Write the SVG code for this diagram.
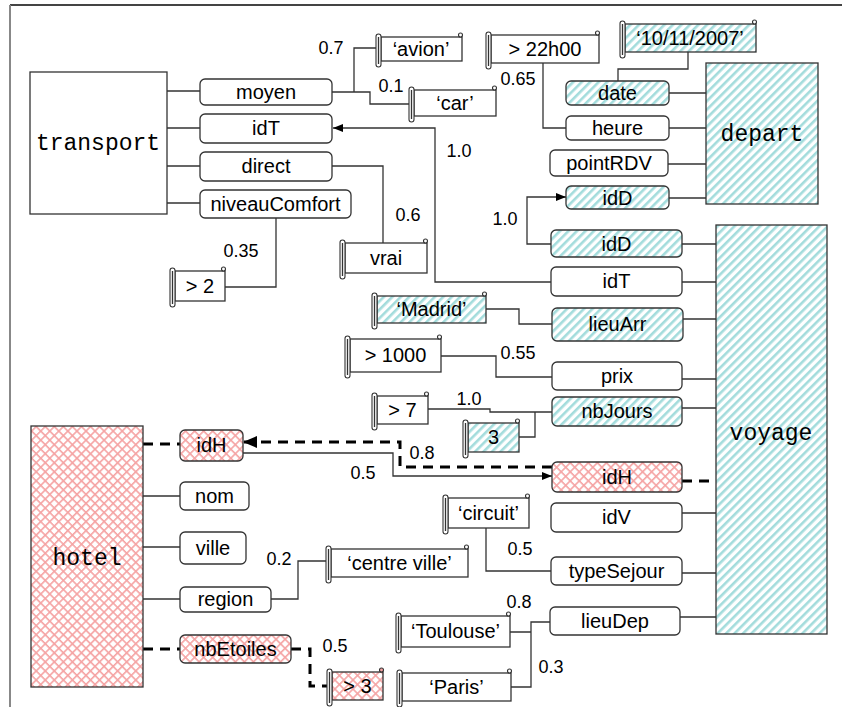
<svg xmlns="http://www.w3.org/2000/svg" width="842" height="707" viewBox="0 0 842 707">
<defs>
<pattern id="cy" width="6" height="6" patternUnits="userSpaceOnUse" patternTransform="rotate(-45)"><rect width="6" height="6" fill="#fff"/><rect width="6" height="2.6" fill="#a3dcdc"/></pattern>
<pattern id="pk" width="6.4" height="6.4" patternUnits="userSpaceOnUse" patternTransform="rotate(45)"><rect width="6.4" height="6.4" fill="#fff"/><path d="M0,0.8H6.4M0.8,0V6.4" stroke="#f5a3a3" stroke-width="1.6"/></pattern>
<marker id="a" markerWidth="11" markerHeight="9" refX="10" refY="4" orient="auto" markerUnits="userSpaceOnUse"><path d="M0,0L10,4L0,8z" fill="#000"/></marker>
<marker id="A" markerWidth="15" markerHeight="13" refX="14" refY="6" orient="auto" markerUnits="userSpaceOnUse"><path d="M0,0L14,6L0,12z" fill="#000"/></marker>
<style>
.n{fill:#fff;stroke:#333;stroke-width:1.3}
.c{fill:url(#cy);stroke:#333;stroke-width:1.3}
.p{fill:url(#pk);stroke:#333;stroke-width:1.3}
.b{stroke:#333;stroke-width:1.3}
.r{fill:#fff;stroke:#333;stroke-width:1.1}
.t{font-family:"Liberation Sans",Arial,sans-serif;font-size:20px;fill:#000;text-anchor:middle}
.m{font-family:"Liberation Mono","Courier New",monospace;font-size:23px;fill:#000;text-anchor:middle}
.l{font-family:"Liberation Sans",Arial,sans-serif;font-size:18px;fill:#000;text-anchor:middle}
.w{fill:none;stroke:#333;stroke-width:1.3}
.d{fill:none;stroke:#000;stroke-width:3;stroke-dasharray:10,7}
</style>
</defs>
<rect width="842" height="707" fill="#fff"/>
<g id="frame"><path d="M10,5H842" stroke="#444" stroke-width="2"/><path d="M10,5V707" stroke="#888" stroke-width="2"/></g>

<g id="connectors">
<path class="w" d="M167,91H200M167,128H200M167,166H200M167,203H200"/>
<path class="w" d="M332,92H354V48H376M354,92H370V104H409"/>
<path class="w" d="M543,63V128H566"/>
<path class="w" d="M688,52V69H618V81"/>
<path class="w" d="M669,93H706M669,128H706M668,164H706M669,198H706"/>
<path class="w" d="M551,282H435V128H333" marker-end="url(#a)"/>
<path class="w" d="M332,166H383V243"/>
<path class="w" d="M276,218V287H225"/>
<path class="w" d="M551,244H527V197H566" marker-end="url(#a)"/>
<path class="w" d="M486,309H519V324H552"/>
<path class="w" d="M441,356H496V377H552"/>
<path class="w" d="M428,409H490V412H552M519,437H535V412"/>
<path class="w" d="M682,244H716M682,282H716M683,319H716M682,379H716M682,408H716M682,513H716M682,573H716M680,617H716"/>
<path class="w" d="M243,453H393V476H552" marker-end="url(#a)"/>
<path class="d" d="M552,467H400V442H243" marker-end="url(#A)"/>
<path class="d" d="M682,481H716"/>
<path class="d" d="M143,444H180"/>
<path class="d" d="M143,649H180M291,649H310V686H328"/>
<path class="w" d="M143,496H180M143,547H180M143,599H180"/>
<path class="w" d="M271,599H298V561H326"/>
<path class="w" d="M486,528V571H551"/>
<path class="w" d="M550,622H531V687H511M510,632H531"/>
</g>

<g id="labels">
<text class="l" x="331" y="54">0.7</text>
<text class="l" x="391" y="92">0.1</text>
<text class="l" x="518" y="85">0.65</text>
<text class="l" x="459" y="157">1.0</text>
<text class="l" x="505" y="225">1.0</text>
<text class="l" x="408" y="221">0.6</text>
<text class="l" x="241" y="257">0.35</text>
<text class="l" x="518" y="359">0.55</text>
<text class="l" x="469" y="405">1.0</text>
<text class="l" x="422" y="459">0.8</text>
<text class="l" x="363" y="479">0.5</text>
<text class="l" x="279" y="565">0.2</text>
<text class="l" x="520" y="555">0.5</text>
<text class="l" x="519" y="608">0.8</text>
<text class="l" x="551" y="673">0.3</text>
<text class="l" x="335" y="652">0.5</text>
</g>

<g id="transport"><rect class="n" x="30" y="72" width="137" height="142"/><text class="m" x="98" y="150">transport</text></g>
<g id="moyen"><rect class="n" x="200" y="79" width="132" height="26" rx="5"/><text class="t" x="266" y="99">moyen</text></g>
<g id="idT-transport"><rect class="n" x="200" y="114" width="132" height="29" rx="5"/><text class="t" x="266" y="135">idT</text></g>
<g id="direct"><rect class="n" x="200" y="152" width="132" height="29" rx="5"/><text class="t" x="266" y="173">direct</text></g>
<g id="niveauComfort"><rect class="n" x="200" y="190" width="151" height="28" rx="5"/><text class="t" x="275.5" y="211">niveauComfort</text></g>

<g id="depart"><rect class="c" x="706" y="63" width="112" height="141"/><text class="m" x="762" y="141">depart</text></g>
<g id="date"><rect class="c" x="566" y="81" width="103" height="24" rx="5"/><text class="t" x="617.5" y="100">date</text></g>
<g id="heure"><rect class="n" x="566" y="116" width="103" height="24" rx="5"/><text class="t" x="617.5" y="135">heure</text></g>
<g id="pointRDV"><rect class="n" x="550" y="150" width="118" height="26" rx="5"/><text class="t" x="609" y="170">pointRDV</text></g>
<g id="idD-depart"><rect class="c" x="566" y="186" width="103" height="23" rx="5"/><text class="t" x="617.5" y="205">idD</text></g>

<g id="voyage"><rect class="c" x="716" y="225" width="111" height="409"/><text class="m" x="771" y="440">voyage</text></g>
<g id="idD-voyage"><rect class="c" x="551" y="230" width="131" height="27" rx="5"/><text class="t" x="616.5" y="251">idD</text></g>
<g id="idT-voyage"><rect class="n" x="551" y="267" width="131" height="29" rx="5"/><text class="t" x="616.5" y="288">idT</text></g>
<g id="lieuArr"><rect class="c" x="552" y="308" width="131" height="33" rx="5"/><text class="t" x="617.5" y="331">lieuArr</text></g>
<g id="prix"><rect class="n" x="552" y="362" width="130" height="28" rx="5"/><text class="t" x="617" y="383">prix</text></g>
<g id="nbJours"><rect class="c" x="552" y="397" width="130" height="29" rx="5"/><text class="t" x="617" y="418">nbJours</text></g>
<g id="idH-voyage"><rect class="p" x="552" y="462" width="130" height="30" rx="5"/><text class="t" x="617" y="484">idH</text></g>
<g id="idV"><rect class="n" x="551" y="503" width="131" height="29" rx="5"/><text class="t" x="616.5" y="524">idV</text></g>
<g id="typeSejour"><rect class="n" x="551" y="557" width="131" height="28" rx="5"/><text class="t" x="616.5" y="578">typeSejour</text></g>
<g id="lieuDep"><rect class="n" x="550" y="607" width="130" height="28" rx="5"/><text class="t" x="615" y="628">lieuDep</text></g>

<g id="hotel"><rect class="p" x="31" y="426" width="112" height="261"/><text class="m" x="87" y="565">hotel</text></g>
<g id="idH-hotel"><rect class="p" x="180" y="430" width="63" height="31" rx="5"/><text class="t" x="211.5" y="452">idH</text></g>
<g id="nom"><rect class="n" x="180" y="482" width="69" height="28" rx="5"/><text class="t" x="214.5" y="503">nom</text></g>
<g id="ville"><rect class="n" x="180" y="532" width="66" height="32" rx="5"/><text class="t" x="213" y="555">ville</text></g>
<g id="region"><rect class="n" x="180" y="587" width="91" height="25" rx="5"/><text class="t" x="225.5" y="606">region</text></g>
<g id="nbEtoiles"><rect class="p" x="180" y="635" width="111" height="28" rx="5"/><text class="t" x="235.5" y="656">nbEtoiles</text></g>

<g id="s-avion"><rect class="n" x="381" y="37" width="81" height="24"/><circle class="r" cx="460.5" cy="35" r="2"/><rect class="r" x="376" y="34" width="5" height="33" rx="2.5"/><line class="b" x1="378.5" y1="37" x2="378.5" y2="64"/><text class="t" x="421" y="56">‘avion’</text></g>
<g id="s-car"><rect class="n" x="414" y="90" width="82" height="26"/><circle class="r" cx="494.5" cy="88" r="2"/><rect class="r" x="409" y="87" width="5" height="35" rx="2.5"/><line class="b" x1="411.5" y1="90" x2="411.5" y2="119"/><text class="t" x="455" y="110">‘car’</text></g>
<g id="s-22h00"><rect class="n" x="491" y="35" width="108" height="28"/><circle class="r" cx="597.5" cy="33" r="2"/><rect class="r" x="486" y="32" width="5" height="37" rx="2.5"/><line class="b" x1="488.5" y1="35" x2="488.5" y2="66"/><text class="t" x="545" y="56">&gt; 22h00</text></g>
<g id="s-date"><rect class="c" x="625" y="24" width="131" height="28"/><circle class="r" cx="754.5" cy="22" r="2"/><rect class="r" x="620" y="21" width="5" height="37" rx="2.5"/><line class="b" x1="622.5" y1="24" x2="622.5" y2="55"/><text class="t" x="690" y="45">‘10/11/2007’</text></g>
<g id="s-vrai"><rect class="n" x="345" y="243" width="82" height="30"/><circle class="r" cx="425.5" cy="241" r="2"/><rect class="r" x="340" y="240" width="5" height="39" rx="2.5"/><line class="b" x1="342.5" y1="243" x2="342.5" y2="276"/><text class="t" x="386" y="265">vrai</text></g>
<g id="s-gt2"><rect class="n" x="175" y="271" width="50" height="30"/><circle class="r" cx="223.5" cy="269" r="2"/><rect class="r" x="170" y="268" width="5" height="39" rx="2.5"/><line class="b" x1="172.5" y1="271" x2="172.5" y2="304"/><text class="t" x="200" y="293">&gt; 2</text></g>
<g id="s-madrid"><rect class="c" x="377" y="296" width="109" height="27"/><circle class="r" cx="484.5" cy="294" r="2"/><rect class="r" x="372" y="293" width="5" height="36" rx="2.5"/><line class="b" x1="374.5" y1="296" x2="374.5" y2="326"/><text class="t" x="431.5" y="316">‘Madrid’</text></g>
<g id="s-1000"><rect class="n" x="350" y="339" width="91" height="33"/><circle class="r" cx="439.5" cy="337" r="2"/><rect class="r" x="345" y="336" width="5" height="42" rx="2.5"/><line class="b" x1="347.5" y1="339" x2="347.5" y2="375"/><text class="t" x="395.5" y="362">&gt; 1000</text></g>
<g id="s-gt7"><rect class="n" x="377" y="396" width="51" height="28"/><circle class="r" cx="426.5" cy="394" r="2"/><rect class="r" x="372" y="393" width="5" height="37" rx="2.5"/><line class="b" x1="374.5" y1="396" x2="374.5" y2="427"/><text class="t" x="402.5" y="417">&gt; 7</text></g>
<g id="s-3"><rect class="c" x="468" y="423" width="51" height="29"/><circle class="r" cx="517.5" cy="421" r="2"/><rect class="r" x="463" y="420" width="5" height="38" rx="2.5"/><line class="b" x1="465.5" y1="423" x2="465.5" y2="455"/><text class="t" x="493.5" y="444">3</text></g>
<g id="s-circuit"><rect class="n" x="448" y="498" width="81" height="30"/><circle class="r" cx="527.5" cy="496" r="2"/><rect class="r" x="443" y="495" width="5" height="39" rx="2.5"/><line class="b" x1="445.5" y1="498" x2="445.5" y2="531"/><text class="t" x="488.5" y="520">‘circuit’</text></g>
<g id="s-centre"><rect class="n" x="331" y="549" width="137" height="28"/><circle class="r" cx="466.5" cy="547" r="2"/><rect class="r" x="326" y="546" width="5" height="37" rx="2.5"/><line class="b" x1="328.5" y1="549" x2="328.5" y2="580"/><text class="t" x="399.5" y="570">‘centre ville’</text></g>
<g id="s-toulouse"><rect class="n" x="401" y="616" width="109" height="31"/><circle class="r" cx="508.5" cy="614" r="2"/><rect class="r" x="396" y="613" width="5" height="40" rx="2.5"/><line class="b" x1="398.5" y1="616" x2="398.5" y2="650"/><text class="t" x="455.5" y="638">‘Toulouse’</text></g>
<g id="s-paris"><rect class="n" x="402" y="673" width="109" height="28"/><circle class="r" cx="509.5" cy="671" r="2"/><rect class="r" x="397" y="670" width="5" height="37" rx="2.5"/><line class="b" x1="399.5" y1="673" x2="399.5" y2="704"/><text class="t" x="456.5" y="694">‘Paris’</text></g>
<g id="s-gt3"><rect class="p" x="332" y="672" width="51" height="28"/><circle class="r" cx="381.5" cy="670" r="2" style="fill:#f5a3a3"/><rect class="r" x="327" y="669" width="5" height="37" rx="2.5"/><line class="b" x1="329.5" y1="672" x2="329.5" y2="703"/><text class="t" x="357.5" y="693">&gt; 3</text></g>
</svg>
